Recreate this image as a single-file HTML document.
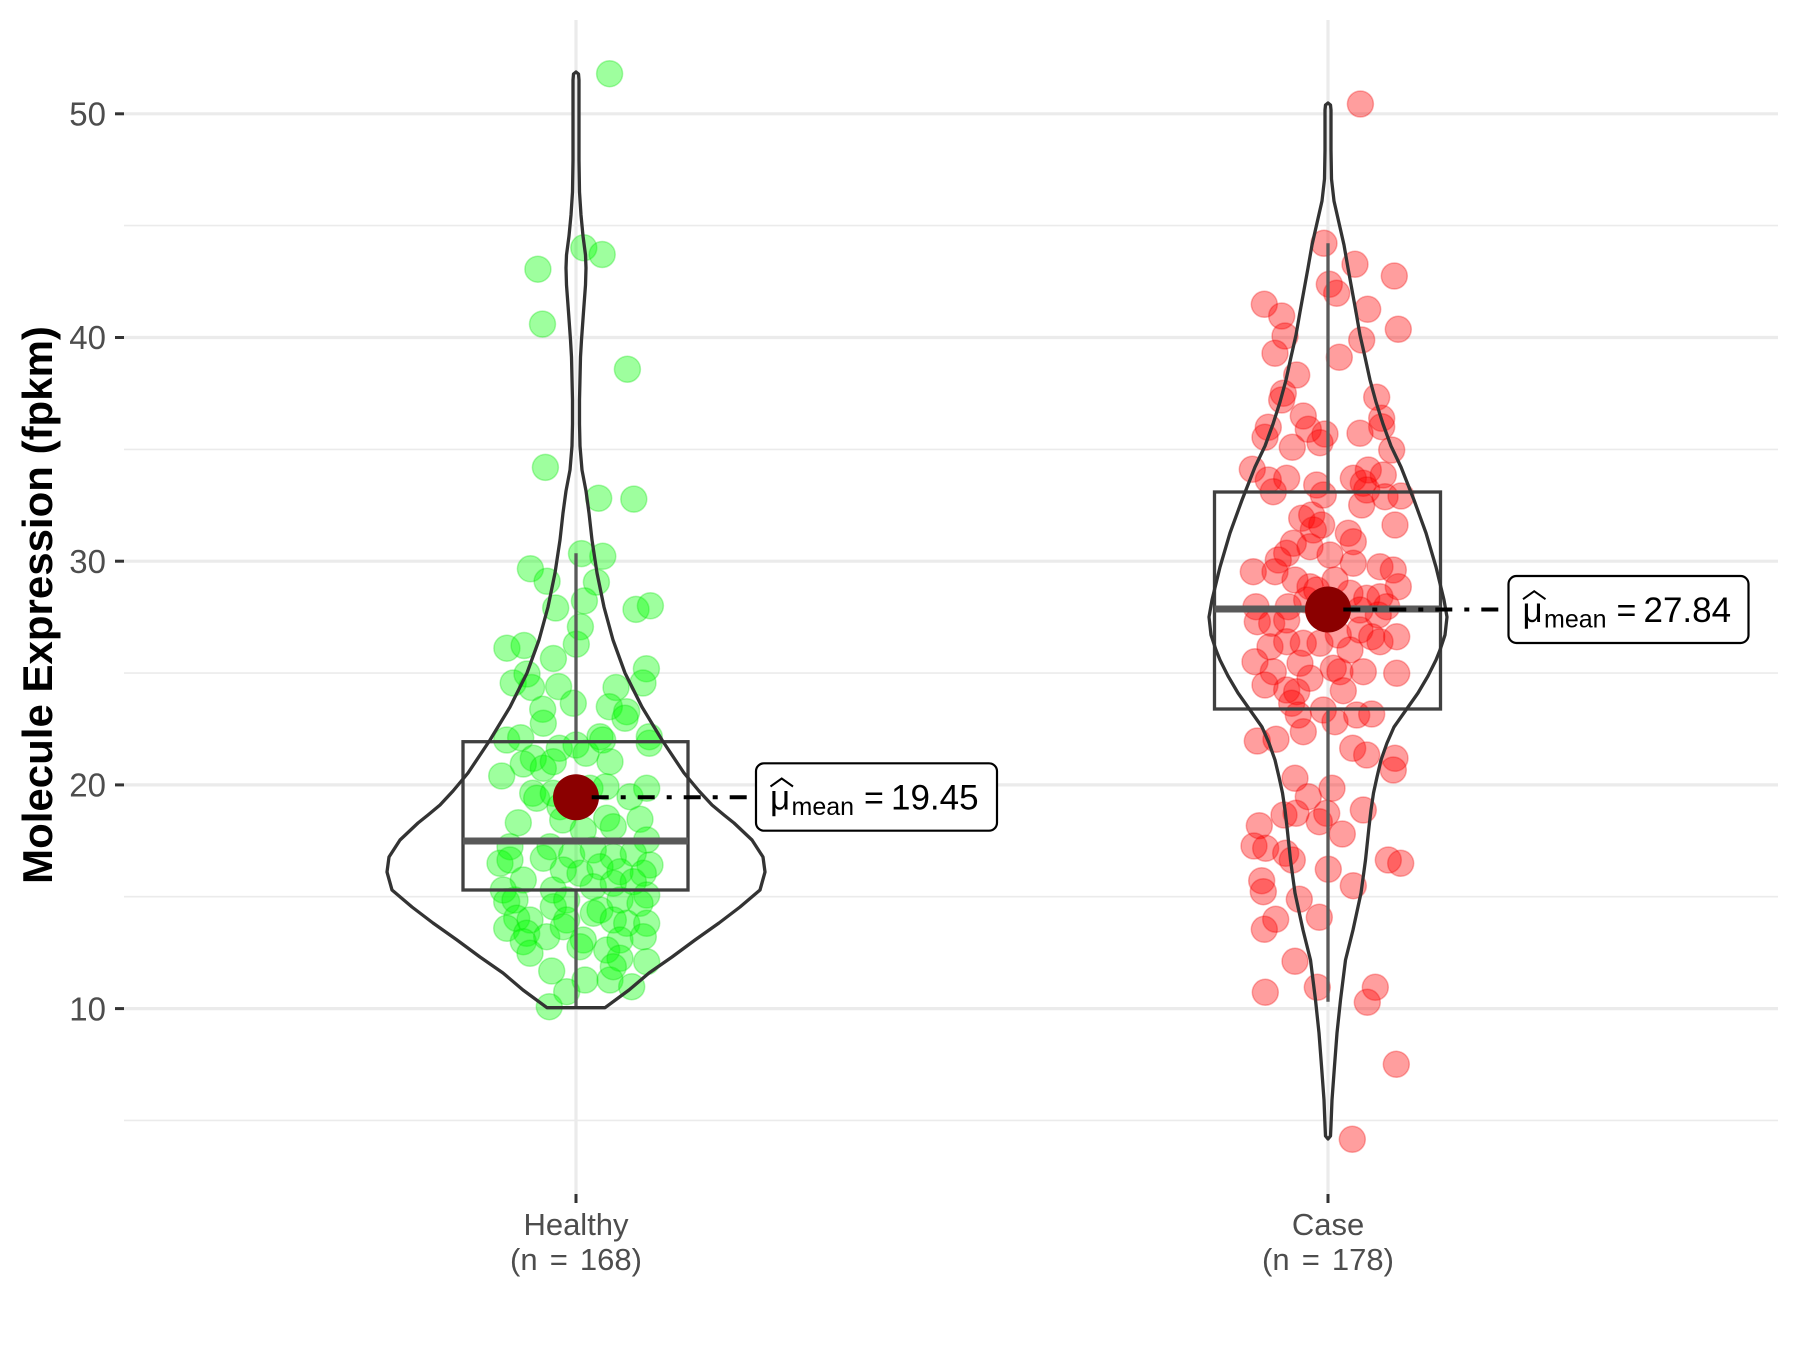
<!DOCTYPE html>
<html>
<head>
<meta charset="utf-8">
<style>
html,body{margin:0;padding:0;background:#fff;}
svg{display:block;}
</style>
</head>
<body>
<svg width="1800" height="1350" viewBox="0 0 1800 1350" xmlns="http://www.w3.org/2000/svg">
<rect width="1800" height="1350" fill="#ffffff"/>
<!-- minor gridlines -->
<g stroke="#ebebeb" stroke-width="1.6">
<line x1="124" x2="1778" y1="225.6" y2="225.6"/>
<line x1="124" x2="1778" y1="449.4" y2="449.4"/>
<line x1="124" x2="1778" y1="673.1" y2="673.1"/>
<line x1="124" x2="1778" y1="896.7" y2="896.7"/>
<line x1="124" x2="1778" y1="1120.4" y2="1120.4"/>
</g>
<!-- major gridlines -->
<g stroke="#ebebeb" stroke-width="3.2">
<line x1="124" x2="1778" y1="113.8" y2="113.8"/>
<line x1="124" x2="1778" y1="337.5" y2="337.5"/>
<line x1="124" x2="1778" y1="561.2" y2="561.2"/>
<line x1="124" x2="1778" y1="784.9" y2="784.9"/>
<line x1="124" x2="1778" y1="1008.6" y2="1008.6"/>
<line x1="576" x2="576" y1="20" y2="1194"/>
<line x1="1328" x2="1328" y1="20" y2="1194"/>
</g>
<!-- axis ticks -->
<g stroke="#333333" stroke-width="3">
<line x1="115" x2="124" y1="113.8" y2="113.8"/>
<line x1="115" x2="124" y1="337.5" y2="337.5"/>
<line x1="115" x2="124" y1="561.2" y2="561.2"/>
<line x1="115" x2="124" y1="784.9" y2="784.9"/>
<line x1="115" x2="124" y1="1008.6" y2="1008.6"/>
<line x1="576" x2="576" y1="1194" y2="1203"/>
<line x1="1328" x2="1328" y1="1194" y2="1203"/>
</g>
<!-- tick labels -->
<g font-family="Liberation Sans, Arial, sans-serif" font-size="33" fill="#4d4d4d" text-anchor="end">
<text x="106" y="125.5">50</text>
<text x="106" y="349.2">40</text>
<text x="106" y="572.9">30</text>
<text x="106" y="796.6">20</text>
<text x="106" y="1020.3">10</text>
</g>
<g font-family="Liberation Sans, Arial, sans-serif" font-size="31" fill="#4d4d4d" text-anchor="middle">
<text x="576" y="1235">Healthy</text>
<text x="576" y="1270" word-spacing="3.5">(n = 168)</text>
<text x="1328" y="1235">Case</text>
<text x="1328" y="1270" word-spacing="3.5">(n = 178)</text>
</g>
<text transform="translate(52,605) rotate(-90)" font-family="Liberation Sans, Arial, sans-serif" font-size="42" font-weight="bold" fill="#000" text-anchor="middle">Molecule Expression (fpkm)</text>

<!-- green points -->
<g fill="#00ff00" fill-opacity="0.38" stroke="#00dd00" stroke-opacity="0.3" stroke-width="1.5">
<circle cx="609.6" cy="73.7" r="13"/><circle cx="537.9" cy="269.2" r="13"/><circle cx="583.8" cy="247.8" r="13"/><circle cx="602.2" cy="254.5" r="13"/><circle cx="542.5" cy="324.1" r="13"/><circle cx="627.4" cy="369.2" r="13"/><circle cx="545.4" cy="467.4" r="13"/><circle cx="598.7" cy="498.2" r="13"/><circle cx="633.8" cy="499.1" r="13"/><circle cx="581.5" cy="553.6" r="13"/><circle cx="602.8" cy="556.3" r="13"/><circle cx="530.4" cy="568.8" r="13"/><circle cx="547.1" cy="581.3" r="13"/><circle cx="596.4" cy="582.1" r="13"/><circle cx="584.4" cy="600.9" r="13"/><circle cx="555.7" cy="608" r="13"/><circle cx="636" cy="609.4" r="13"/><circle cx="650.4" cy="605.8" r="13"/><circle cx="580.4" cy="626.8" r="13"/><circle cx="506.9" cy="648.2" r="13"/><circle cx="524.1" cy="645.5" r="13"/><circle cx="576.3" cy="644.2" r="13"/><circle cx="553.4" cy="658.5" r="13"/><circle cx="646.4" cy="668.8" r="13"/><circle cx="513.2" cy="683" r="13"/><circle cx="527" cy="674" r="13"/><circle cx="531.6" cy="687.5" r="13"/><circle cx="558.6" cy="686.6" r="13"/><circle cx="616" cy="687.5" r="13"/><circle cx="643" cy="683" r="13"/>
<circle cx="573.3" cy="703.3" r="13"/><circle cx="542.7" cy="709.3" r="13"/><circle cx="609.3" cy="706.7" r="13"/><circle cx="626.7" cy="711.7" r="13"/><circle cx="543.3" cy="723.3" r="13"/><circle cx="625" cy="718.3" r="13"/><circle cx="649.3" cy="736.7" r="13"/><circle cx="649.3" cy="743.3" r="13"/><circle cx="506.7" cy="740" r="13"/><circle cx="520.7" cy="737.7" r="13"/><circle cx="559.3" cy="748.3" r="13"/><circle cx="576" cy="745" r="13"/><circle cx="586" cy="753.3" r="13"/><circle cx="600" cy="736.7" r="13"/><circle cx="602.7" cy="740" r="13"/><circle cx="610" cy="761.7" r="13"/><circle cx="533.3" cy="758.3" r="13"/><circle cx="523.3" cy="764" r="13"/><circle cx="543.3" cy="768.3" r="13"/><circle cx="553.3" cy="761.7" r="13"/><circle cx="501.7" cy="776" r="13"/><circle cx="532.7" cy="793.3" r="13"/><circle cx="536.7" cy="798.3" r="13"/><circle cx="553.3" cy="793.3" r="13"/><circle cx="590" cy="788.3" r="13"/><circle cx="606" cy="786.7" r="13"/><circle cx="630" cy="796.7" r="13"/><circle cx="646.7" cy="788.3" r="13"/><circle cx="560" cy="806.7" r="13"/><circle cx="518.3" cy="822.7" r="13"/><circle cx="562.7" cy="820" r="13"/><circle cx="606.7" cy="818.3" r="13"/><circle cx="613.3" cy="826.7" r="13"/><circle cx="640" cy="819.3" r="13"/><circle cx="583.3" cy="830" r="13"/><circle cx="646.7" cy="840" r="13"/><circle cx="510" cy="846.7" r="13"/><circle cx="550" cy="846.7" r="13"/><circle cx="571.7" cy="855" r="13"/><circle cx="593.3" cy="850" r="13"/><circle cx="613.3" cy="856.7" r="13"/><circle cx="633.3" cy="853.3" r="13"/><circle cx="650" cy="865" r="13"/><circle cx="500" cy="863.3" r="13"/><circle cx="510" cy="860" r="13"/><circle cx="543.3" cy="858.3" r="13"/><circle cx="563.3" cy="870" r="13"/><circle cx="580" cy="873.3" r="13"/><circle cx="600" cy="866.7" r="13"/><circle cx="620" cy="871.7" r="13"/><circle cx="643.3" cy="873.3" r="13"/><circle cx="523.3" cy="880" r="13"/><circle cx="503.3" cy="890" r="13"/><circle cx="553.3" cy="890" r="13"/><circle cx="593.3" cy="886.7" r="13"/><circle cx="613.3" cy="883.3" r="13"/><circle cx="633.3" cy="881.7" r="13"/><circle cx="646.7" cy="895" r="13"/><circle cx="506.7" cy="901.7" r="13"/><circle cx="515" cy="900" r="13"/><circle cx="553.3" cy="906.7" r="13"/><circle cx="566.7" cy="900" r="13"/><circle cx="600" cy="910" r="13"/><circle cx="620" cy="900" r="13"/><circle cx="640" cy="903.3" r="13"/><circle cx="516.7" cy="918.3" r="13"/><circle cx="530" cy="920" r="13"/><circle cx="566.7" cy="920" r="13"/><circle cx="593.3" cy="913.3" r="13"/><circle cx="613.3" cy="920" r="13"/><circle cx="626.7" cy="923.3" r="13"/><circle cx="646.7" cy="923.3" r="13"/><circle cx="506.7" cy="928.3" r="13"/><circle cx="526.7" cy="933.3" r="13"/><circle cx="546.7" cy="936.7" r="13"/><circle cx="563.3" cy="926.7" r="13"/><circle cx="583.3" cy="940" r="13"/><circle cx="620" cy="940" r="13"/><circle cx="643.3" cy="936.7" r="13"/><circle cx="523.3" cy="941.7" r="13"/><circle cx="530" cy="953.3" r="13"/><circle cx="580" cy="946.7" r="13"/><circle cx="606.7" cy="950" r="13"/><circle cx="620" cy="958.3" r="13"/><circle cx="646.7" cy="961.7" r="13"/><circle cx="551.7" cy="971" r="13"/><circle cx="585" cy="980" r="13"/><circle cx="610" cy="980" r="13"/><circle cx="631.7" cy="986.7" r="13"/><circle cx="566.7" cy="991.7" r="13"/><circle cx="549.3" cy="1006.7" r="13"/><circle cx="613.3" cy="966.7" r="13"/>
</g>

<!-- red points -->
<g fill="#ff0000" fill-opacity="0.38" stroke="#ee0000" stroke-opacity="0.3" stroke-width="1.5">
<circle cx="1360.4" cy="104" r="13"/><circle cx="1324" cy="243.3" r="13"/><circle cx="1355" cy="264.3" r="13"/><circle cx="1394.3" cy="276" r="13"/><circle cx="1329.3" cy="284.3" r="13"/><circle cx="1336.7" cy="293.3" r="13"/><circle cx="1264.3" cy="304.3" r="13"/><circle cx="1281.7" cy="316" r="13"/><circle cx="1367.7" cy="309.3" r="13"/><circle cx="1398.3" cy="329.3" r="13"/><circle cx="1285" cy="336" r="13"/><circle cx="1361.7" cy="340" r="13"/><circle cx="1275" cy="353.3" r="13"/><circle cx="1339.3" cy="357.3" r="13"/><circle cx="1296.7" cy="375" r="13"/><circle cx="1283.3" cy="393.3" r="13"/><circle cx="1281.7" cy="400" r="13"/><circle cx="1376.7" cy="397.3" r="13"/><circle cx="1303.3" cy="416" r="13"/><circle cx="1381.7" cy="418.3" r="13"/><circle cx="1381.7" cy="426.7" r="13"/><circle cx="1268.3" cy="427.3" r="13"/><circle cx="1265" cy="437.3" r="13"/><circle cx="1308.3" cy="429.3" r="13"/><circle cx="1325" cy="434" r="13"/><circle cx="1320" cy="442.7" r="13"/><circle cx="1360" cy="433.3" r="13"/><circle cx="1292.3" cy="447.3" r="13"/><circle cx="1391.7" cy="450" r="13"/><circle cx="1252.3" cy="469.3" r="13"/><circle cx="1268.3" cy="480" r="13"/><circle cx="1286.7" cy="478.3" r="13"/><circle cx="1273.3" cy="491.7" r="13"/><circle cx="1316.7" cy="485" r="13"/><circle cx="1323.3" cy="495" r="13"/><circle cx="1353.3" cy="478.3" r="13"/><circle cx="1368.3" cy="470" r="13"/><circle cx="1363.3" cy="483.3" r="13"/><circle cx="1366.7" cy="490" r="13"/><circle cx="1383.3" cy="475" r="13"/><circle cx="1385" cy="496.7" r="13"/><circle cx="1401" cy="496" r="13"/><circle cx="1361.7" cy="505" r="13"/><circle cx="1395" cy="525" r="13"/><circle cx="1301.7" cy="518.3" r="13"/><circle cx="1311.7" cy="515" r="13"/><circle cx="1321.7" cy="525" r="13"/><circle cx="1313.3" cy="530" r="13"/><circle cx="1348.3" cy="533.3" r="13"/><circle cx="1353.3" cy="541.7" r="13"/><circle cx="1293.3" cy="543.3" r="13"/><circle cx="1286.7" cy="553.3" r="13"/><circle cx="1310" cy="546.7" r="13"/><circle cx="1330" cy="555" r="13"/><circle cx="1353.3" cy="563.3" r="13"/><circle cx="1278.3" cy="560" r="13"/><circle cx="1253.3" cy="571.7" r="13"/><circle cx="1275" cy="571.7" r="13"/><circle cx="1295" cy="580" r="13"/><circle cx="1310" cy="586.7" r="13"/><circle cx="1335" cy="580" r="13"/><circle cx="1380" cy="566.7" r="13"/><circle cx="1393.3" cy="570" r="13"/><circle cx="1398.3" cy="586.7" r="13"/>
<circle cx="1256" cy="606.7" r="13"/><circle cx="1257.3" cy="621.7" r="13"/><circle cx="1271.7" cy="623.3" r="13"/><circle cx="1286.7" cy="620" r="13"/><circle cx="1288.3" cy="606.7" r="13"/><circle cx="1306.7" cy="600" r="13"/><circle cx="1316.7" cy="590" r="13"/><circle cx="1350" cy="593.3" r="13"/><circle cx="1366.7" cy="598.3" r="13"/><circle cx="1380" cy="596.7" r="13"/><circle cx="1386.7" cy="606.7" r="13"/><circle cx="1360" cy="610" r="13"/><circle cx="1378.3" cy="615" r="13"/><circle cx="1270" cy="646.7" r="13"/><circle cx="1286.7" cy="641.7" r="13"/><circle cx="1303.3" cy="643.3" r="13"/><circle cx="1320" cy="643.3" r="13"/><circle cx="1338.3" cy="635" r="13"/><circle cx="1360" cy="630" r="13"/><circle cx="1371.7" cy="636.7" r="13"/><circle cx="1380" cy="641.7" r="13"/><circle cx="1396.7" cy="636.7" r="13"/><circle cx="1350" cy="650" r="13"/><circle cx="1255" cy="661.7" r="13"/><circle cx="1273.3" cy="671.7" r="13"/><circle cx="1300" cy="663.3" r="13"/><circle cx="1310" cy="678.3" r="13"/><circle cx="1333.3" cy="668.3" r="13"/><circle cx="1340" cy="671.7" r="13"/><circle cx="1363.3" cy="671.7" r="13"/><circle cx="1396.7" cy="673.3" r="13"/><circle cx="1265" cy="685" r="13"/><circle cx="1286.7" cy="690" r="13"/><circle cx="1296.7" cy="691.7" r="13"/><circle cx="1343.3" cy="690.7" r="13"/><circle cx="1291.7" cy="703.3" r="13"/><circle cx="1323.3" cy="710" r="13"/><circle cx="1335" cy="721.7" r="13"/><circle cx="1356.7" cy="715" r="13"/><circle cx="1371.7" cy="714" r="13"/><circle cx="1298.3" cy="715" r="13"/><circle cx="1303.3" cy="731.7" r="13"/><circle cx="1257.3" cy="741" r="13"/><circle cx="1276" cy="739.3" r="13"/><circle cx="1352.7" cy="748.3" r="13"/><circle cx="1366.7" cy="755" r="13"/><circle cx="1395" cy="758.3" r="13"/><circle cx="1393.3" cy="770" r="13"/><circle cx="1295" cy="778.3" r="13"/><circle cx="1332" cy="788.3" r="13"/><circle cx="1308.3" cy="796.7" r="13"/><circle cx="1284" cy="815" r="13"/><circle cx="1296" cy="813.3" r="13"/><circle cx="1326.7" cy="813.3" r="13"/><circle cx="1319.3" cy="821.7" r="13"/><circle cx="1363.3" cy="810" r="13"/><circle cx="1259.3" cy="825.7" r="13"/><circle cx="1342.3" cy="834" r="13"/><circle cx="1254" cy="846" r="13"/><circle cx="1265.7" cy="848.3" r="13"/><circle cx="1285.7" cy="853.3" r="13"/><circle cx="1292.3" cy="860" r="13"/><circle cx="1388.3" cy="860" r="13"/><circle cx="1400.7" cy="863.3" r="13"/><circle cx="1328.3" cy="869.3" r="13"/><circle cx="1353.3" cy="885.7" r="13"/><circle cx="1261.7" cy="880.7" r="13"/><circle cx="1263.3" cy="891.7" r="13"/><circle cx="1299.3" cy="899.3" r="13"/><circle cx="1275.7" cy="919.3" r="13"/><circle cx="1264.3" cy="929.3" r="13"/><circle cx="1319.3" cy="917.3" r="13"/><circle cx="1295" cy="961.3" r="13"/><circle cx="1265.3" cy="992.3" r="13"/><circle cx="1317.3" cy="987.3" r="13"/><circle cx="1375.3" cy="987.3" r="13"/><circle cx="1367.3" cy="1002.3" r="13"/><circle cx="1396.3" cy="1064.3" r="13"/><circle cx="1352.3" cy="1139.3" r="13"/>
</g>

<!-- boxplots -->
<g fill="none" stroke-linecap="butt">
<line x1="576" x2="576" y1="553.3" y2="741.7" stroke="#595959" stroke-width="3.3"/>
<line x1="576" x2="576" y1="890" y2="1007.7" stroke="#595959" stroke-width="3.3"/>
<rect x="463" y="741.7" width="225" height="148.3" stroke="#404040" stroke-width="3.3"/>
<line x1="463" x2="688" y1="841" y2="841" stroke="#595959" stroke-width="7"/>
<line x1="1328" x2="1328" y1="243.3" y2="492" stroke="#595959" stroke-width="3.3"/>
<line x1="1328" x2="1328" y1="709" y2="1001.7" stroke="#595959" stroke-width="3.3"/>
<rect x="1214.5" y="492" width="226" height="217" stroke="#404040" stroke-width="3.3"/>
<line x1="1214.5" x2="1440.5" y1="609" y2="609" stroke="#595959" stroke-width="7"/>
</g>

<!-- violins -->
<g fill="none" stroke="#333333" stroke-width="3.3" stroke-linejoin="round">
<path d="M576,72 L573.5,74 L573,80 L573,120 L573,160 L572.5,192 L571,215 L569,236 L566.5,255 L566,268 L566.5,285 L568.5,312 L570.5,340 L571.5,357 L572.5,400 L572.5,424 L572,446 L570,470 L566,491 L563,513 L560,540 L555,573 L548,607 L539,640 L527,673 L510,707 L490,740 L468,773 L453,791 L440,805 L428,815 L418,823 L400,840 L389,857 L387,872 L392,890 L412,907 L433,923 L457,940 L480,957 L503,973 L523,990 L547,1007.7 L605,1007.7 L629,990 L649,973 L672,957 L695,940 L719,923 L740,907 L760,890 L765,872 L763,857 L752,840 L734,823 L724,815 L712,805 L699,791 L684,773 L662,740 L642,707 L625,673 L613,640 L604,607 L597,573 L592,540 L589,513 L586,491 L582,470 L580,446 L579.5,424 L579.5,400 L580.5,357 L581.5,340 L583.5,312 L585.5,285 L586,268 L585.5,255 L583,236 L581,215 L579.5,192 L579,160 L579,120 L579,80 L578.5,74 Z"/>
<path d="M1328,103 L1325.5,105 L1325,110 L1325,150 L1324.5,179 L1322,201 L1317,223 L1312,245 L1308,268 L1304,290 L1300,312 L1296,335 L1291,357 L1286,380 L1280,402 L1273,424 L1265,446 L1255,467 L1242,500 L1230,533 L1220,567 L1212,600 L1209,617 L1211,635 L1216,650 L1220,660 L1228,676 L1238,693 L1250,710 L1262,727 L1269,743 L1275,760 L1279,777 L1282.5,793 L1285,810 L1287,827 L1290.5,860 L1295,893 L1303,930 L1310.5,960 L1315.5,1000 L1319,1033 L1321.5,1066 L1324,1100 L1325,1125 L1325.5,1136 L1328,1139 L1330.5,1136 L1331,1125 L1332,1100 L1334.5,1066 L1337,1033 L1340.5,1000 L1345.5,960 L1353,930 L1361,893 L1365.5,860 L1369,827 L1371,810 L1373.5,793 L1377,777 L1381,760 L1387,743 L1394,727 L1406,710 L1418,693 L1428,676 L1436,660 L1440,650 L1445,635 L1447,617 L1444,600 L1436,567 L1426,533 L1414,500 L1401,467 L1391,446 L1383,424 L1376,402 L1370,380 L1365,357 L1360,335 L1356,312 L1352,290 L1348,268 L1344,245 L1339,223 L1334,201 L1331.5,179 L1331,150 L1331,110 L1330.5,105 Z"/>
</g>

<!-- mean points -->
<circle cx="576" cy="797.2" r="23" fill="#8b0000"/>
<circle cx="1328" cy="609.5" r="23" fill="#8b0000"/>

<!-- mean leader lines -->
<g stroke="#000" stroke-width="4" stroke-dasharray="17 12 5 12" fill="none">
<line x1="591.7" x2="756" y1="797.2" y2="797.2"/>
<line x1="1343.3" x2="1508.5" y1="609.5" y2="609.5"/>
</g>

<!-- labels -->
<g font-family="Liberation Sans, Arial, sans-serif" fill="#000">
<rect x="756" y="763.3" width="241" height="67.4" rx="8" ry="8" fill="#fff" stroke="#000" stroke-width="2.2"/>
<path d="M770.5,786.5 L781.7,778.5 L793,786.5" fill="none" stroke="#000" stroke-width="2"/>
<text x="770" y="809.3" font-size="35">μ</text>
<text x="791.5" y="815" font-size="25">mean</text>
<text x="864" y="809.3" font-size="34">=</text>
<text x="891" y="809.3" font-size="35">19.45</text>

<rect x="1508.5" y="576" width="240" height="67" rx="8" ry="8" fill="#fff" stroke="#000" stroke-width="2.2"/>
<path d="M1523,599.2 L1534.2,591.2 L1545.5,599.2" fill="none" stroke="#000" stroke-width="2"/>
<text x="1522.5" y="622" font-size="35">μ</text>
<text x="1544" y="627.7" font-size="25">mean</text>
<text x="1616.5" y="622" font-size="34">=</text>
<text x="1643.5" y="622" font-size="35">27.84</text>
</g>
</svg>
</body>
</html>
